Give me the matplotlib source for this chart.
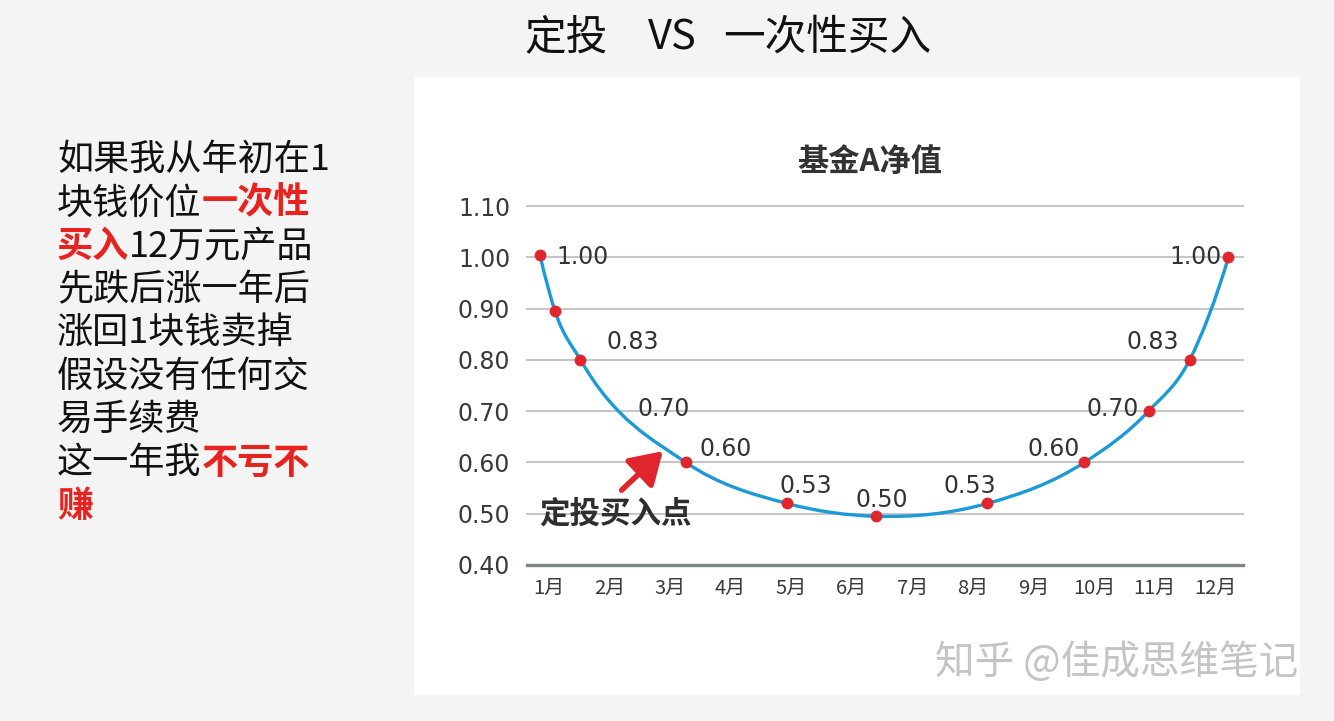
import numpy as np
import matplotlib
matplotlib.use("Agg")
import matplotlib.pyplot as plt
from matplotlib.path import Path
from matplotlib.patches import PathPatch, Rectangle

plt.rcParams["font.family"] = ["Noto Sans CJK SC", "DejaVu Sans"]

# categories on the x axis
months = ["1月", "2月", "3月", "4月", "5月", "6月", "7月", "8月", "9月", "10月", "11月", "12月"]
month_pos = list(range(1, 13))
y_ticks = [0.40, 0.50, 0.60, 0.70, 0.80, 0.90, 1.00, 1.10]

# net value points (x in month units)
point_month = [0.85, 1.10, 1.52, 3.26, 4.93, 6.40, 8.24, 9.84, 10.90, 11.58, 12.22]
point_nav = [1.005, 0.895, 0.80, 0.60, 0.52, 0.495, 0.52, 0.60, 0.70, 0.80, 1.00]
point_label = ["1.00", None, "0.83", "0.60", "0.53", "0.50", "0.53", "0.60", "0.70", "0.83", "1.00"]
# label offsets in pixels (style only)
label_off = [(43, -2), None, (52, 18), (40, 13), (19, 17), (6, 16), (-18, 17), (-31, 13), (-36, 2), (-37, 18), (-33, 0)]

W, H = 1334, 721
fig = plt.figure(figsize=(W / 100, H / 100), dpi=100, facecolor="#f4f4f4")
fig.patches.append(Rectangle((414 / W, 1 - 695 / H), (1300 - 414) / W, (695 - 77) / H,
                             transform=fig.transFigure, facecolor="white", edgecolor="none", zorder=-5))

# slide title
for s, x in [("定投", 525), ("VS", 648), ("一次性买入", 723)]:
    fig.text(x / W, 1 - 38 / H, s, fontsize=30, color="#111111", ha="left", va="center")

# left text block with red bold parts
renderer = fig.canvas.get_renderer()
lines = [
    [("如果我从年初在1", False)],
    [("块钱价位", False), ("一次性", True)],
    [("买入", True), ("12万元产品", False)],
    [("先跌后涨一年后", False)],
    [("涨回1块钱卖掉", False)],
    [("假设没有任何交", False)],
    [("易手续费", False)],
    [("这一年我", False), ("不亏不", True)],
    [("赚", True)],
]
for i, parts in enumerate(lines):
    x = 57
    y = 160 + i * 43.3
    for s, red in parts:
        t = fig.text(x / W, 1 - y / H, s, fontsize=26, ha="left", va="center",
                     color="#e8231f" if red else "#111111",
                     fontweight="bold" if red else "normal")
        x = t.get_window_extent(renderer).x1

ax = fig.add_axes([527 / W, 1 - 565 / H, 716 / W, 359 / H])
ax.set_facecolor("none")
ax.set_xlim(0.637, 12.46)
ax.set_ylim(0.40, 1.10)
for s in ax.spines.values():
    s.set_visible(False)

for v in y_ticks[1:]:
    ax.axhline(v, color="#c6c6c6", lw=1.5, zorder=1, clip_on=False)
ax.axhline(y_ticks[0], color="#7b8585", lw=2.4, zorder=1, clip_on=False)

ax.set_yticks(y_ticks)
ax.set_yticklabels([f"{v:.2f}" for v in y_ticks], fontfamily="DejaVu Sans")
ax.set_xticks(month_pos)
ax.set_xticklabels(months)
ax.tick_params(axis="y", length=0, pad=12, labelsize=17, labelcolor="#3a3a3a")
ax.tick_params(axis="x", length=0, pad=9, labelsize=14.5, labelcolor="#3a3a3a")


def smooth_path(x, y):
    x = np.asarray(x, float)
    y = np.asarray(y, float)
    h = np.diff(x)
    d = np.diff(y) / h
    m = np.empty_like(y)
    m[1:-1] = (h[1:] * d[:-1] + h[:-1] * d[1:]) / (h[:-1] + h[1:])
    m[0] = 2 * d[0] - m[1]
    m[-1] = 2 * d[-1] - m[-2]
    verts = [(x[0], y[0])]
    codes = [Path.MOVETO]
    for i in range(len(x) - 1):
        verts += [(x[i] + h[i] / 3, y[i] + m[i] * h[i] / 3),
                  (x[i + 1] - h[i] / 3, y[i + 1] - m[i + 1] * h[i] / 3),
                  (x[i + 1], y[i + 1])]
        codes += [Path.CURVE4] * 3
    return Path(verts, codes)


ax.add_patch(PathPatch(smooth_path(point_month, point_nav), facecolor="none",
                       edgecolor="#1b9ad6", lw=2.4, zorder=3))
ax.plot(point_month, point_nav, "o", color="#e1252b", ms=8.5, mec="none", zorder=4, clip_on=False)

for xm, yv, lab, off in zip(point_month, point_nav, point_label, label_off):
    if lab is None:
        continue
    ax.annotate(lab, (xm, yv), xytext=off, textcoords="offset pixels", ha="center", va="center",
                fontsize=17, color="#333333", fontfamily="DejaVu Sans", zorder=5)
# floating label on the falling leg
ax.text(2.90, 0.704, "0.70", ha="center", va="center", fontsize=17, color="#333333",
        fontfamily="DejaVu Sans", zorder=5)

ax.annotate("", xy=(2.88, 0.622), xytext=(2.20, 0.546),
            arrowprops=dict(arrowstyle="-|>,head_length=0.8,head_width=0.5", color="#e0262c",
                            lw=4, mutation_scale=24, shrinkA=0, shrinkB=0), zorder=5)
ax.text(2.09, 0.501, "定投买入点", ha="center", va="center", fontsize=22, fontweight="bold",
        color="#2e2e2e", zorder=5)

fig.text(870 / W, 1 - 162 / H, "基金A净值", ha="center", va="center", fontsize=22.5,
         fontweight="bold", color="#333333")

fig.text(1298 / W, 1 - 663 / H, "知乎 @佳成思维笔记", ha="right", va="center", fontsize=28.5,
         color="#c4c4c4")

fig.savefig("out.png", dpi=100, facecolor=fig.get_facecolor())
